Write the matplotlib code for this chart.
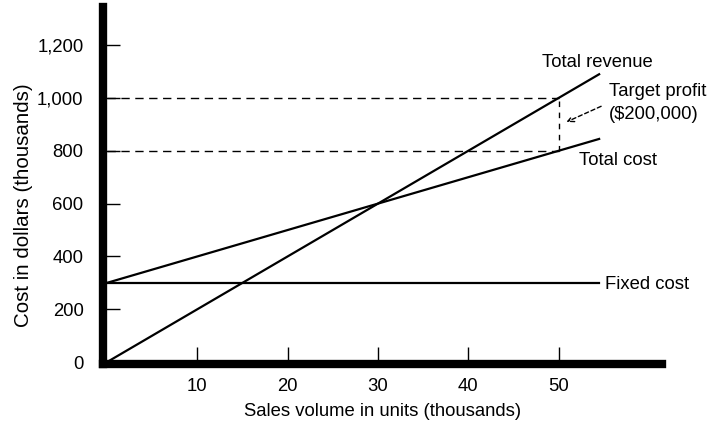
import matplotlib.pyplot as plt

plt.rcParams['font.family'] = ['Liberation Sans', 'DejaVu Sans']

# break-even chart values (thousands)
units = [0, 54.5]
revenue = [0, 1090]
total_cost = [300, 845]
fixed_cost = [300, 300]
target_units = 50
target_revenue = 1000
target_cost = 800

fs = 13.3

fig = plt.figure(figsize=(7.08, 4.33), dpi=100)
ax = fig.add_axes([0.1455, 0.159, 0.79, 0.825])

ax.plot(units, revenue, color='black', lw=1.6)
ax.plot(units, total_cost, color='black', lw=1.6)
ax.plot(units, fixed_cost, color='black', lw=1.6)

# target profit guides
ax.plot([0, target_units], [target_revenue, target_revenue], color='black', lw=1, ls=(0, (6, 4)))
ax.plot([0, target_units], [target_cost, target_cost], color='black', lw=1, ls=(0, (6, 4)))
ax.plot([target_units, target_units], [target_cost, target_revenue], color='black', lw=1, ls=(0, (4, 4)))

ax.text(48.2, 1136, 'Total revenue', fontsize=fs, va='center')
ax.text(55.6, 1023, 'Target profit', fontsize=fs, va='center')
ax.text(55.6, 936, '($200,000)', fontsize=fs, va='center')
ax.text(52.3, 765, 'Total cost', fontsize=fs, va='center')
ax.text(55.2, 292, 'Fixed cost', fontsize=fs, va='center')
ax.annotate('', xy=(50.6, 905), xytext=(55.0, 973),
            arrowprops=dict(arrowstyle='->', color='black', lw=1, ls=(0, (3, 2)),
                            mutation_scale=11))

ax.set_xlim(-0.45, 61.5)
ax.set_ylim(-8, 1345)
ax.set_xticks([10, 20, 30, 40, 50])
ax.set_yticks([0, 200, 400, 600, 800, 1000, 1200])
ax.set_yticklabels(['0', '200', '400', '600', '800', '1,000', '1,200'])
ax.tick_params(direction='in', length=12, width=1, labelsize=fs)
ax.tick_params(axis='y', pad=14)
ax.tick_params(axis='x', pad=10)

for s in ['top', 'right']:
    ax.spines[s].set_visible(False)
for s in ['left', 'bottom']:
    ax.spines[s].set_linewidth(6)

ax.set_xlabel('Sales volume in units (thousands)', fontsize=fs, labelpad=6)
ax.set_ylabel('Cost in dollars (thousands)', fontsize=14.8, labelpad=5)
ax.yaxis.set_label_coords(-0.125, 0.445)

fig.savefig('out.png', dpi=100)
